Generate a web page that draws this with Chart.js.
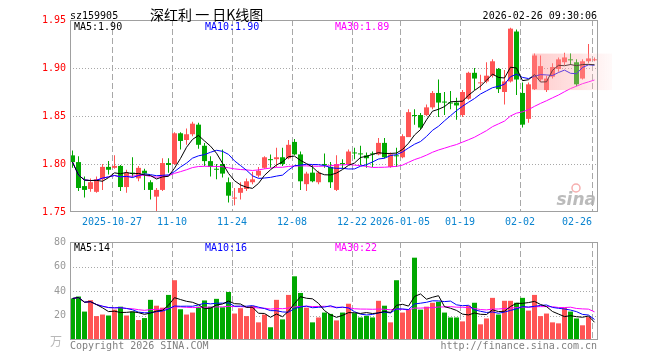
<!DOCTYPE html>
<html lang="zh-CN">
<head>
<meta charset="UTF-8" />
<title>深红利 一 日K线图</title>
<script src="https://cdn.jsdelivr.net/npm/chart.js"></script>
<style>
  body { margin: 0; background: #fff; }
  #wrap { position: relative; width: 660px; height: 360px; }
  #kline { position: absolute; left: 0; top: 0; }
  #vol { position: absolute; left: 0; top: 232px; }
</style>
</head>
<body>
<div id="wrap">
  <canvas id="kline" width="660" height="232"></canvas>
  <canvas id="vol" width="660" height="128"></canvas>
</div>
<script>
const symbol = "sz159905";
const title = "深红利 一 日K线图";
const stamp = "2026-02-26 09:30:06";

const tradeDates = [
  "10-16","10-17","10-20","10-21","10-22","10-23","10-24","10-27","10-28","10-29","10-30","10-31",
  "11-03","11-04","11-05","11-06","11-07","11-10","11-11","11-12","11-13","11-14","11-17","11-18",
  "11-19","11-20","11-21","11-24","11-25","11-26","11-27","11-28",
  "12-01","12-02","12-03","12-04","12-05","12-08","12-09","12-10","12-11","12-12","12-15","12-16",
  "12-17","12-18","12-19","12-22","12-23","12-24","12-25","12-26","12-29","12-30","12-31",
  "01-05","01-06","01-07","01-08","01-09","01-12","01-13","01-14","01-15","01-16","01-19","01-20",
  "01-21","01-22","01-23","01-26","01-27","01-28","01-29","01-30",
  "02-02","02-03","02-04","02-05","02-06","02-09","02-10","02-11","02-12","02-13","02-24","02-25","02-26"
];
const xTickLabels = ["2025-10-27","11-10","11-24","12-08","12-22","2026-01-05","01-19","02-02","02-26"];

const open = [
  1.809,1.802,1.777,1.774,1.771,1.784,1.797,1.796,1.798,1.776,
  1.791,1.785,1.793,1.781,1.766,1.773,1.801,1.800,1.832,1.825,
  1.831,1.841,1.819,1.803,1.795,1.800,1.781,1.764,1.770,1.774,
  1.781,1.788,1.796,1.805,1.805,1.807,1.806,1.823,1.810,1.779,
  1.791,1.781,1.800,1.797,1.773,1.801,1.800,1.812,1.811,1.809,
  1.811,1.810,1.822,1.797,1.809,1.807,1.828,1.851,1.851,1.851,
  1.859,1.874,1.865,1.864,1.864,1.851,1.868,1.895,1.884,1.886,
  1.892,1.899,1.875,1.886,1.938,1.874,1.847,1.878,1.888,1.877,
  1.891,1.899,1.906,1.909,1.906,1.889,1.907,1.908
];
const high = [
  1.814,1.808,1.787,1.785,1.787,1.800,1.803,1.809,1.799,1.794,
  1.807,1.798,1.795,1.783,1.775,1.806,1.806,1.833,1.833,1.837,
  1.844,1.843,1.822,1.808,1.800,1.815,1.786,1.775,1.781,1.785,
  1.792,1.797,1.808,1.810,1.817,1.817,1.825,1.826,1.813,1.792,
  1.799,1.793,1.811,1.802,1.809,1.805,1.815,1.817,1.819,1.812,
  1.813,1.827,1.827,1.812,1.817,1.831,1.857,1.857,1.853,1.862,
  1.876,1.888,1.875,1.876,1.869,1.877,1.896,1.900,1.893,1.906,
  1.909,1.900,1.898,1.942,1.940,1.885,1.885,1.915,1.913,1.892,
  1.905,1.911,1.916,1.915,1.909,1.909,1.925,1.911
];
const low = [
  1.796,1.772,1.765,1.771,1.770,1.773,1.789,1.795,1.772,1.770,
  1.786,1.782,1.773,1.763,1.750,1.772,1.791,1.799,1.815,1.820,
  1.829,1.816,1.798,1.787,1.784,1.786,1.760,1.757,1.763,1.772,
  1.779,1.786,1.795,1.796,1.797,1.798,1.805,1.809,1.773,1.772,
  1.781,1.779,1.796,1.775,1.772,1.795,1.799,1.805,1.799,1.796,
  1.797,1.809,1.806,1.796,1.797,1.806,1.828,1.841,1.836,1.850,
  1.857,1.849,1.851,1.857,1.846,1.849,1.867,1.877,1.877,1.884,
  1.890,1.874,1.862,1.885,1.872,1.838,1.843,1.877,1.886,1.875,
  1.889,1.896,1.903,1.903,1.881,1.888,1.905,1.907
];
const close = [
  1.802,1.775,1.773,1.781,1.784,1.797,1.794,1.798,1.776,1.791,
  1.790,1.796,1.790,1.773,1.773,1.801,1.799,1.832,1.824,1.831,
  1.842,1.820,1.803,1.797,1.794,1.790,1.767,1.765,1.775,1.782,
  1.784,1.793,1.807,1.804,1.807,1.800,1.820,1.810,1.782,1.790,
  1.782,1.791,1.799,1.781,1.800,1.800,1.813,1.811,1.810,1.806,
  1.810,1.822,1.807,1.810,1.808,1.829,1.854,1.850,1.838,1.859,
  1.874,1.864,1.864,1.863,1.861,1.875,1.895,1.889,1.885,1.892,
  1.907,1.878,1.886,1.941,1.888,1.841,1.883,1.913,1.902,1.889,
  1.901,1.909,1.911,1.908,1.883,1.907,1.910,1.909
];
// 成交量 (万手)
const volume = [
  33.9,35.5,23.2,32.5,19.5,20.8,20.0,24.8,27.2,20.0,
  23.2,16.3,17.9,32.8,28.0,26.4,36.8,48.8,25.1,20.8,
  22.4,27.2,32.3,27.2,33.6,26.7,39.2,21.6,25.9,19.5,
  27.7,14.4,20.8,10.4,32.8,16.8,36.8,52.0,38.4,26.4,
  14.4,18.4,22.4,21.3,16.0,22.4,29.6,21.9,18.4,19.7,
  18.4,32.0,28.0,14.4,48.8,22.4,24.8,67.2,24.8,27.2,
  30.4,31.2,22.4,18.4,18.4,15.2,28.0,30.4,12.8,17.6,
  34.4,20.8,32.0,32.0,30.4,34.4,24.0,36.8,19.5,21.6,
  14.4,13.6,26.4,23.2,17.6,12.0,18.7,0.8
];

const UP = "#ff5454", DOWN = "#00a800";
const MONO = '"DejaVu Sans Mono", monospace';
const CJK = '"Noto Sans CJK SC", sans-serif';
Chart.defaults.font.family = MONO;
Chart.defaults.font.size = 10;

// moving average over what is available (shorter window at the start)
function movingAvg(arr, n) {
  return arr.map((_, i) => {
    const s = Math.max(0, i - n + 1);
    let sum = 0;
    for (let k = s; k <= i; k++) sum += arr[k];
    return sum / (i - s + 1);
  });
}

const tickIdx = xTickLabels.map(l => tradeDates.indexOf(l.slice(-5)));
const colors = close.map((c, i) => (c >= open[i] ? UP : DOWN));
const X_OFF = 2.5 / 6; // candle centre is 2.5px right of its slot edge
const last = close.length - 1;

const ma5 = movingAvg(close, 5), ma10 = movingAvg(close, 10), ma30 = movingAvg(close, 30);
const vma5 = movingAvg(volume, 5), vma10 = movingAvg(volume, 10), vma30 = movingAvg(volume, 30);

function xAxis(showLabels) {
  return {
    type: "linear",
    offset: false,
    min: -X_OFF,
    max: tradeDates.length - X_OFF,
    grid: { display: false, drawTicks: false },
    border: { display: false },
    afterBuildTicks: s => {
      s.ticks = [{ value: -X_OFF }].concat(tickIdx.map(i => ({ value: i - X_OFF })));
    },
    afterFit: s => { s.height = 20; },
    ticks: {
      display: showLabels,
      autoSkip: false,
      maxRotation: 0,
      align: "inner",
      padding: 4,
      color: "#0a84d0",
      callback: v => {
        const k = tickIdx.indexOf(Math.round(v + X_OFF));
        return v === -X_OFF || k < 0 ? "" : xTickLabels[k];
      }
    }
  };
}

function lineSet(values, color) {
  return {
    type: "line",
    data: values.map((v, i) => ({ x: i, y: v })),
    borderColor: color,
    borderWidth: 1,
    pointRadius: 0,
    tension: 0,
    order: 1
  };
}

// grid, frame and texts for one panel; under/over are drawn below/above the marks
function panel(under, over, haze) {
  return {
    id: "panel",
    beforeDatasetsDraw(chart) {
      const { ctx, chartArea: a, scales: { x, y } } = chart;
      ctx.save();
      ctx.lineWidth = 1;
      ctx.strokeStyle = "#a8a8a8";
      ctx.setLineDash([1, 2]);
      y.ticks.forEach(t => {
        if (Math.abs(t.value - y.min) < 1e-9 || Math.abs(t.value - y.max) < 1e-9) return;
        const py = Math.round(y.getPixelForValue(t.value)) + 0.5;
        ctx.beginPath(); ctx.moveTo(a.left, py); ctx.lineTo(a.right, py); ctx.stroke();
      });
      ctx.setLineDash([6, 3]);
      x.ticks.forEach(t => {
        if (t.value === x.min) return;
        const px = Math.round(x.getPixelForValue(t.value)) + 0.5;
        ctx.beginPath(); ctx.moveTo(px, a.top); ctx.lineTo(px, a.bottom); ctx.stroke();
      });
      ctx.restore();
      if (under) under(ctx, a);
    },
    afterDatasetsDraw(chart) {
      if (haze) haze(chart);
    },
    afterDraw(chart) {
      const { ctx, chartArea: a } = chart;
      ctx.save();
      ctx.strokeStyle = "#a0a0a0";
      ctx.lineWidth = 1;
      ctx.strokeRect(a.left + 0.5, a.top + 0.5, a.width - 1, a.height - 1);
      ctx.restore();
      if (over) over(ctx, a);
    }
  };
}

function drawMaLabels(ctx, y, items) {
  ctx.save();
  ctx.font = "10px " + MONO;
  ctx.textBaseline = "middle";
  ctx.textAlign = "left";
  items.forEach(([text, color, x]) => { ctx.fillStyle = color; ctx.fillText(text, x, y); });
  ctx.restore();
}

function sinaMark(ctx, a) {
  ctx.save();
  ctx.font = 'italic bold 17px "DejaVu Sans", sans-serif';
  ctx.fillStyle = "rgba(175,175,175,0.85)";
  ctx.textAlign = "right";
  ctx.textBaseline = "alphabetic";
  ctx.fillText("sina", a.right - 2, a.bottom - 7);
  ctx.strokeStyle = "rgba(240,120,120,0.6)";
  ctx.lineWidth = 1.5;
  ctx.beginPath(); ctx.arc(a.right - 22, a.bottom - 24, 4, 0, Math.PI * 2); ctx.stroke();
  ctx.restore();
}

// faint pink wash over the newest candles, as on the source image
function pinkWash(chart) {
  const { ctx, scales: { x, y } } = chart;
  const x0 = x.getPixelForValue(77 - X_OFF), x1 = x.right + 14;
  const y0 = y.getPixelForValue(1.915), y1 = y.getPixelForValue(1.877);
  const g = ctx.createLinearGradient(x0, 0, x1, 0);
  g.addColorStop(0, "rgba(255,140,140,0.45)");
  g.addColorStop(0.6, "rgba(255,175,175,0.35)");
  g.addColorStop(1, "rgba(255,215,215,0.15)");
  ctx.save();
  ctx.fillStyle = g;
  ctx.fillRect(x0, y0, x1 - x0, y1 - y0);
  ctx.restore();
}

function priceTexts(ctx, a) {
  ctx.save();
  ctx.textBaseline = "middle";
  ctx.fillStyle = "#000";
  ctx.font = "10px " + MONO;
  ctx.textAlign = "left";
  ctx.fillText(symbol, 70, 16);
  ctx.textAlign = "right";
  ctx.fillText(stamp, 597, 16);
  ctx.font = "14px " + CJK;
  ctx.textAlign = "left";
  ctx.fillText(title, 150, 15);
  ctx.restore();
  drawMaLabels(ctx, a.top + 7, [
    ["MA5:" + ma5[last].toFixed(2), "#000000", 74],
    ["MA10:" + ma10[last].toFixed(2), "#0000ff", 205],
    ["MA30:" + ma30[last].toFixed(2), "#ff00ff", 335]
  ]);
}

function volumeTexts(ctx, a) {
  drawMaLabels(ctx, a.top + 6, [
    ["MA5:" + Math.floor(vma5[last]), "#000000", 74],
    ["MA10:" + Math.floor(vma10[last]), "#0000ff", 205],
    ["MA30:" + Math.floor(vma30[last]), "#ff00ff", 335]
  ]);
  ctx.save();
  ctx.textBaseline = "middle";
  ctx.font = "12px " + CJK;
  ctx.fillStyle = "#b8b8b8";
  ctx.textAlign = "center";
  ctx.fillText("万", 56, a.bottom + 1);
  ctx.font = "10px " + MONO;
  ctx.fillStyle = "#808080";
  ctx.textAlign = "left";
  ctx.fillText("Copyright 2026 SINA.COM", 70, a.bottom + 6);
  ctx.textAlign = "right";
  ctx.fillText("http://finance.sina.com.cn", 597, a.bottom + 6);
  ctx.restore();
}

new Chart(document.getElementById("kline"), {
  type: "bar",
  data: {
    datasets: [
      {
        data: tradeDates.map((d, i) => ({ x: i, y: [low[i], high[i]] })),
        backgroundColor: colors,
        barThickness: 1,
        grouped: false,
        inflateAmount: 0,
        order: 3
      },
      {
        data: tradeDates.map((d, i) => ({ x: i, y: [open[i], close[i]] })),
        backgroundColor: colors,
        barThickness: 5,
        minBarLength: 1,
        grouped: false,
        inflateAmount: 0,
        order: 2
      },
      lineSet(ma5, "#000000"),
      lineSet(ma10, "#0000ff"),
      lineSet(ma30, "#ff00ff")
    ]
  },
  options: {
    responsive: false,
    animation: false,
    events: [],
    layout: { padding: { left: 0, right: 62, top: 20, bottom: 0 } },
    scales: {
      x: xAxis(true),
      y: {
        min: 1.75,
        max: 1.95,
        grid: { display: false, drawTicks: false },
        border: { display: false },
        afterFit: s => { s.width = 70; },
        ticks: { stepSize: 0.05, padding: 4, color: "#ff0000", callback: v => v.toFixed(2) }
      }
    },
    plugins: { legend: { display: false }, tooltip: { enabled: false } }
  },
  plugins: [panel(sinaMark, priceTexts, pinkWash)]
});

new Chart(document.getElementById("vol"), {
  type: "bar",
  data: {
    datasets: [
      {
        data: tradeDates.map((d, i) => ({ x: i, y: volume[i] })),
        backgroundColor: colors,
        barThickness: 5,
        grouped: false,
        inflateAmount: 0,
        order: 2
      },
      lineSet(vma5, "#000000"),
      lineSet(vma10, "#0000ff"),
      lineSet(vma30, "#ff00ff")
    ]
  },
  options: {
    responsive: false,
    animation: false,
    events: [],
    layout: { padding: { left: 0, right: 62, top: 8, bottom: 0 } },
    scales: {
      x: xAxis(false),
      y: {
        min: 0,
        max: 80,
        grid: { display: false, drawTicks: false },
        border: { display: false },
        afterFit: s => { s.width = 70; },
        ticks: { stepSize: 20, padding: 4, color: "#999999", callback: v => (v === 0 ? "" : v) }
      }
    },
    plugins: { legend: { display: false }, tooltip: { enabled: false } }
  },
  plugins: [panel(null, volumeTexts)]
});
</script>
</body>
</html>
